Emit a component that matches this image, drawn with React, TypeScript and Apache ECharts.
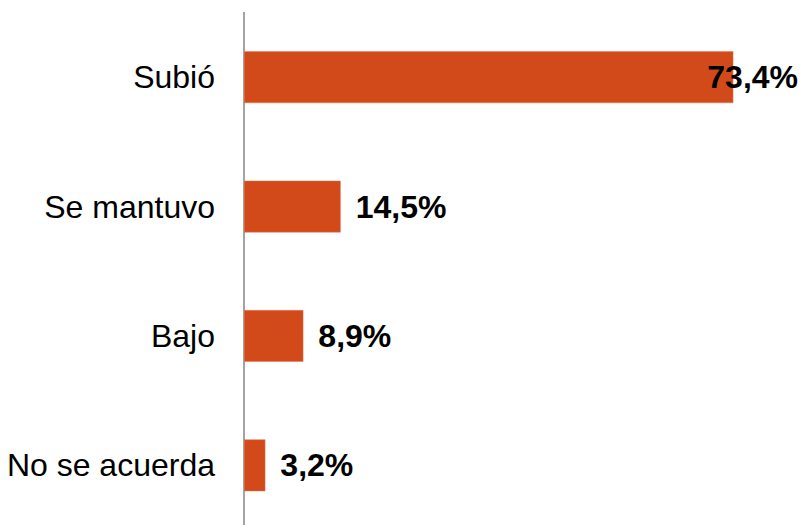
import React, { useEffect, useRef } from "react";
import * as echarts from "echarts";

const categories = ["Subió", "Se mantuvo", "Bajo", "No se acuerda"];
const values = [73.4, 14.5, 8.9, 3.2];
const labelOffsets = [-41, 0, 0, 0];

export default function App() {
  const ref = useRef<HTMLDivElement>(null);
  useEffect(() => {
    if (!ref.current) return;
    const chart = echarts.init(ref.current, null, { renderer: "svg" });
    chart.setOption({
      animation: false,
      grid: { left: 244, right: 23.7, top: 12.5, bottom: 0, containLabel: false },
      xAxis: {
        type: "value",
        min: 0,
        max: 80,
        show: false,
      },
      yAxis: {
        type: "category",
        data: categories,
        inverse: true,
        axisLine: { show: true, lineStyle: { color: "#868686", width: 1.5 } },
        axisTick: { show: false },
        axisLabel: {
          margin: 29,
          color: "#000",
          fontSize: 32,
          fontFamily: "'Liberation Sans', Arial, sans-serif",
        },
      },
      series: [
        {
          type: "bar",
          barWidth: "40%",
          data: values.map((v, i) => ({
            value: v,
            label: { offset: [labelOffsets[i], 0] },
          })),
          itemStyle: { color: "#D34A1A", borderColor: "#E2775A", borderWidth: 0.5 },
          label: {
            show: true,
            position: "right",
            distance: 15,
            color: "#000",
            fontSize: 32,
            fontWeight: "bold",
            fontFamily: "'Liberation Sans', Arial, sans-serif",
            formatter: (p: any) => p.value.toFixed(1).replace(".", ",") + "%",
          },
        },
      ],
    });
    return () => chart.dispose();
  }, []);
  return (
    <div
      ref={ref}
      style={{ position: "fixed", left: 0, top: 0, width: 801, height: 530, background: "#fff" }}
    />
  );
}
